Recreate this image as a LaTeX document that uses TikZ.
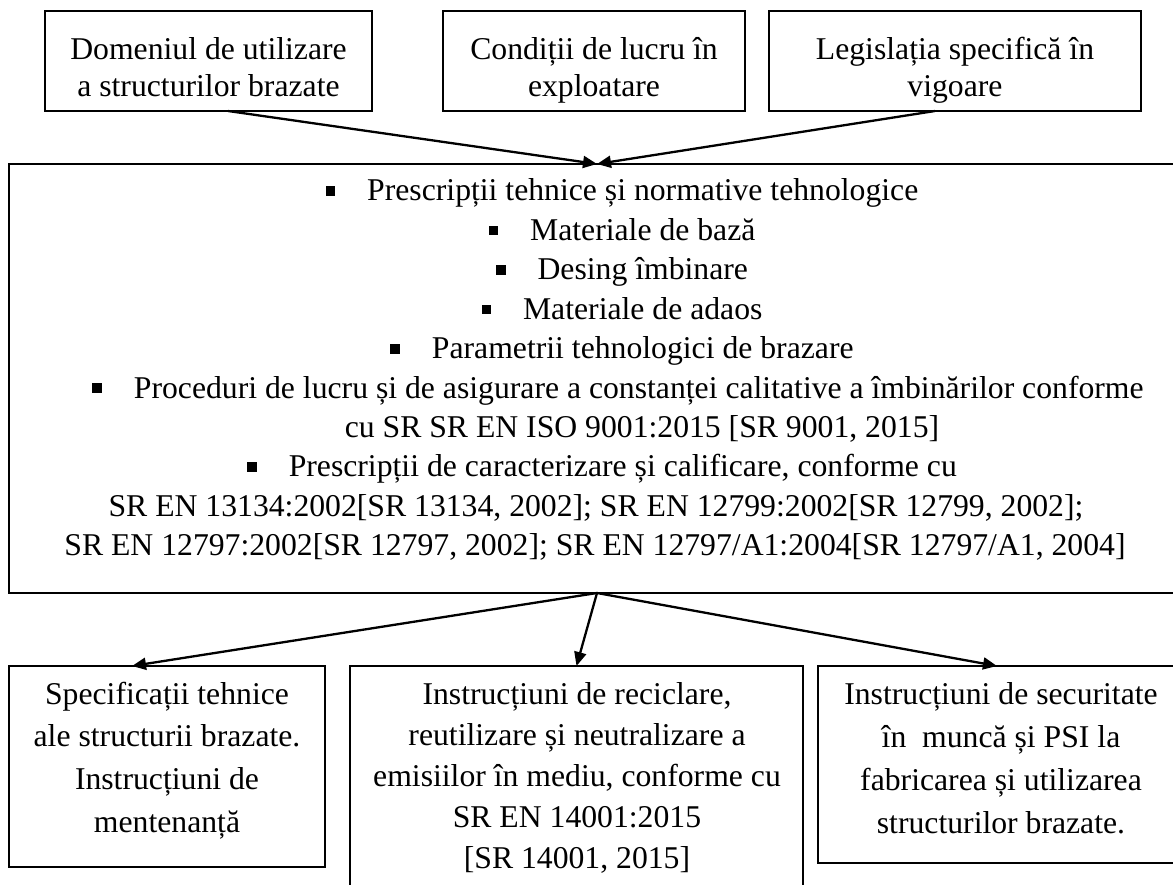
\documentclass[tikz,border=0pt]{standalone}
\usepackage{fontspec}
\setmainfont{Liberation Serif}
\usetikzlibrary{arrows.meta}

% small square bullet followed by the tab gap
\newcommand\sqbullet{\raisebox{5pt}{\rule{9.5pt}{9.5pt}}\hspace{32pt}}
% centred block of lines with a given line pitch
\newcommand\textstack[2]{\fontsize{31.7pt}{#1}\selectfont\begin{tabular}[t]{@{}c@{}}#2\end{tabular}}

\begin{document}
\begin{tikzpicture}[x=1pt,y=-1pt,
  box/.style={draw, line width=1.5pt, inner sep=0pt, outer sep=0pt, anchor=north west},
  txt/.style={inner sep=0pt, outer sep=0pt, anchor=base},
  item/.style={inner sep=0pt, outer sep=0pt, anchor=base, font=\fontsize{31.7pt}{39.4pt}\selectfont},
  arr/.style={line width=2.3pt, -{Triangle[length=14pt,width=12pt]}}]
\useasboundingbox (0,0) rectangle (1173,885);
\clip (0,0) rectangle (1173,885);

% top row of inputs
\node[box, minimum width=327pt, minimum height=100pt] (b1) at (45,11) {};
\node[box, minimum width=302pt, minimum height=100pt] (b2) at (443,11) {};
\node[box, minimum width=372pt, minimum height=100pt] (b3) at (769,11) {};
\node[txt] (t1) at (208.5,60) {\textstack{37pt}{Domeniul de utilizare\\a structurilor brazate}};
\node[txt] (t2) at (594,60) {\textstack{37pt}{Condiții de lucru în\\exploatare}};
\node[txt] (t3) at (955,60) {\textstack{37pt}{Legislația specifică în\\vigoare}};

% central block
\node[box, minimum width=1176pt, minimum height=429pt] (big) at (9,164) {};
\node[item] (l1) at (622,201.0) {\sqbullet Prescripții tehnice și normative tehnologice};
\node[item] (l2) at (622,240.4) {\sqbullet Materiale de bază};
\node[item] (l3) at (622,279.8) {\sqbullet Desing îmbinare};
\node[item] (l4) at (622,319.2) {\sqbullet Materiale de adaos};
\node[item] (l5) at (622,358.6) {\sqbullet Parametrii tehnologici de brazare};
\node[item] (l6) at (618,398.0) {\sqbullet Proceduri de lucru și de asigurare a constanței calitative a îmbinărilor conforme};
\node[item] (l7) at (642,437.4) {cu SR SR EN ISO 9001:2015 [SR 9001, 2015]};
\node[item] (l8) at (602,476.8) {\sqbullet Prescripții de caracterizare și calificare, conforme cu};
\node[item] (l9) at (596,516.2) {SR EN 13134:2002[SR 13134, 2002]; SR EN 12799:2002[SR 12799, 2002];};
\node[item] (l10) at (595,555.6) {SR EN 12797:2002[SR 12797, 2002]; SR EN 12797/A1:2004[SR 12797/A1, 2004]};

% bottom row of outputs
\node[box, minimum width=316pt, minimum height=201pt] (b4) at (9,666) {};
\node[box, minimum width=453pt, minimum height=240pt] (b5) at (350,666) {};
\node[box, minimum width=366pt, minimum height=197pt] (b6) at (818,666) {};
\node[txt] (t4) at (167,704) {\textstack{42.7pt}{Specificații tehnice\\ale structurii brazate.\\Instrucțiuni de\\mentenanță}};
\node[txt] (t5) at (577,704) {\textstack{41pt}{Instrucțiuni de reciclare,\\reutilizare și neutralizare a\\emisiilor în mediu, conforme cu\\SR EN 14001:2015\\{[SR 14001, 2015]}}};
\node[txt] (t6) at (1001,704) {\textstack{43pt}{Instrucțiuni de securitate\\în\ \ muncă și PSI la\\fabricarea și utilizarea\\structurilor brazate.}};

% connectors
\draw[arr] ([xshift=19.5pt]b1.south) -- (big.north);
\draw[arr] ([xshift=-20pt]b3.south) -- (big.north);
\draw[arr] (big.south) -- ([xshift=-35pt]b4.north);
\draw[arr] (big.south) -- (b5.north);
\draw[arr] (big.south) -- ([xshift=-4pt]b6.north);
\end{tikzpicture}
\end{document}
